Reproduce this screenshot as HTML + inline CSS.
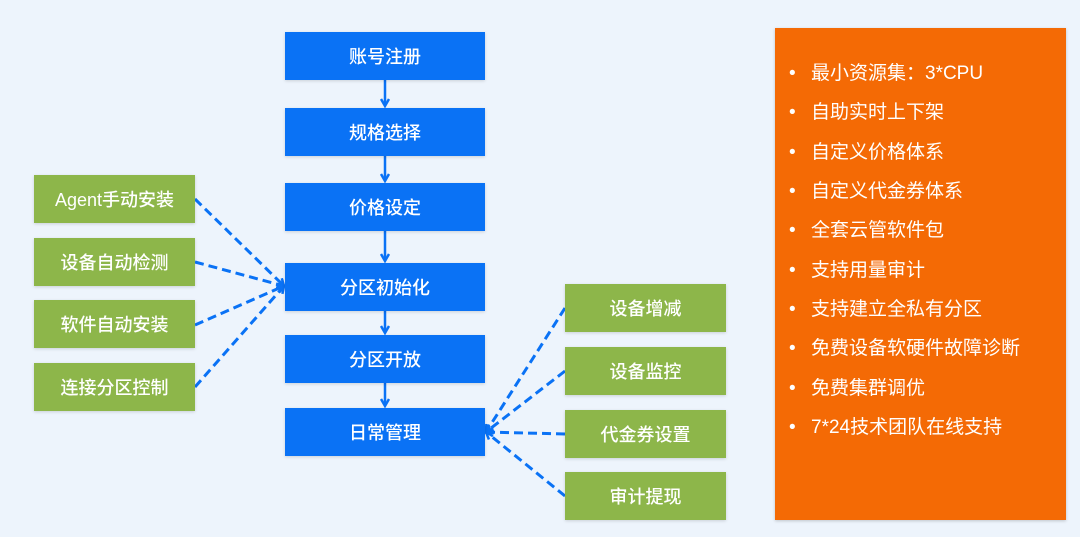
<!DOCTYPE html>
<html><head><meta charset="utf-8"><style>
body{margin:0;width:1080px;height:537px;background:#edf4fc;position:relative;overflow:hidden;font-family:"Liberation Sans","Noto Sans CJK SC",sans-serif;}
.b{position:absolute;display:flex;align-items:center;justify-content:center;color:#fff;font-size:18px;font-weight:500;box-shadow:0 1px 3px rgba(0,0,0,.15);}
.blue{background:#0a72f5;left:285px;width:200px;height:48px;}
.g{background:#8db64a;height:48px;width:161px;}
.o{position:absolute;left:775px;top:28px;width:291px;height:492px;background:#f46a05;box-shadow:0 1px 3px rgba(0,0,0,.2);}
.o div{position:absolute;left:36px;color:#fff;font-size:19px;line-height:20px;}
.o div:before{content:"•";position:absolute;left:-22px;}
svg{position:absolute;left:0;top:0;}
</style></head><body>
<svg width="1080" height="537">
<defs><marker id="a" markerWidth="10" markerHeight="10" refX="8" refY="5" orient="auto" markerUnits="userSpaceOnUse"><path d="M1,1 L8,5 L1,9" fill="none" stroke="#0a72f5" stroke-width="2.5"/></marker></defs>
<g stroke="#0a72f5" stroke-width="2.5" fill="none">
<line x1="385" y1="80" x2="385" y2="106" marker-end="url(#a)"/>
<line x1="385" y1="156" x2="385" y2="181" marker-end="url(#a)"/>
<line x1="385" y1="231" x2="385" y2="261" marker-end="url(#a)"/>
<line x1="385" y1="310" x2="385" y2="333" marker-end="url(#a)"/>
<line x1="385" y1="383" x2="385" y2="406" marker-end="url(#a)"/>
<g stroke-dasharray="9,5" stroke-width="3">
<line x1="195" y1="199" x2="284" y2="286" marker-end="url(#a)"/>
<line x1="195" y1="262" x2="284" y2="286" marker-end="url(#a)"/>
<line x1="195" y1="325" x2="284" y2="286" marker-end="url(#a)"/>
<line x1="195" y1="387" x2="284" y2="286" marker-end="url(#a)"/>
<line x1="565" y1="308" x2="486" y2="432" marker-end="url(#a)"/>
<line x1="565" y1="371" x2="486" y2="432" marker-end="url(#a)"/>
<line x1="565" y1="434" x2="486" y2="432" marker-end="url(#a)"/>
<line x1="565" y1="496" x2="486" y2="432" marker-end="url(#a)"/>
</g></g></svg>
<div class="b blue" style="top:32px">账号注册</div>
<div class="b blue" style="top:108px">规格选择</div>
<div class="b blue" style="top:183px">价格设定</div>
<div class="b blue" style="top:263px">分区初始化</div>
<div class="b blue" style="top:335px">分区开放</div>
<div class="b blue" style="top:408px">日常管理</div>
<div class="b g" style="left:34px;top:175px">Agent手动安装</div>
<div class="b g" style="left:34px;top:238px">设备自动检测</div>
<div class="b g" style="left:34px;top:300px">软件自动安装</div>
<div class="b g" style="left:34px;top:363px">连接分区控制</div>
<div class="b g" style="left:565px;top:284px">设备增减</div>
<div class="b g" style="left:565px;top:347px">设备监控</div>
<div class="b g" style="left:565px;top:410px">代金券设置</div>
<div class="b g" style="left:565px;top:472px">审计提现</div>
<div class="o">
<div style="top:36px">最小资源集：3*CPU</div>
<div style="top:75px">自助实时上下架</div>
<div style="top:115px">自定义价格体系</div>
<div style="top:154px">自定义代金券体系</div>
<div style="top:193px">全套云管软件包</div>
<div style="top:233px">支持用量审计</div>
<div style="top:272px">支持建立全私有分区</div>
<div style="top:311px">免费设备软硬件故障诊断</div>
<div style="top:351px">免费集群调优</div>
<div style="top:390px">7*24技术团队在线支持</div>
</div>
</body></html>
